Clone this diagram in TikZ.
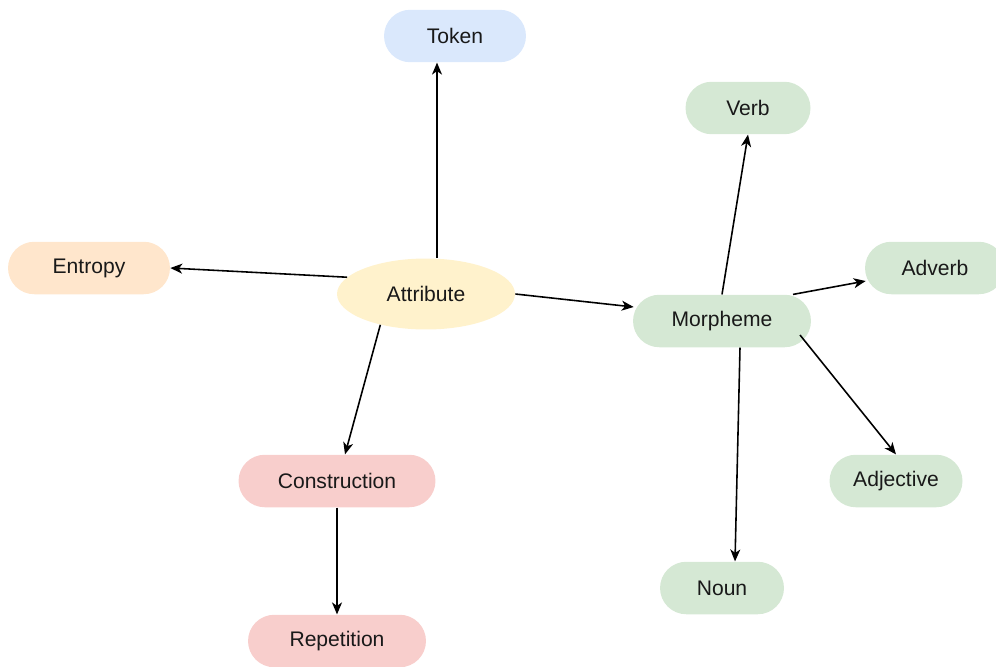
\documentclass[tikz,border=0pt]{standalone}
\usepackage{fontspec}
\setmainfont{Liberation Sans}
\usepackage{tikz}
\usetikzlibrary{calc,shapes.geometric,arrows.meta}

\definecolor{tokblue}{HTML}{DAE8FC}
\definecolor{entorange}{HTML}{FFE6CC}
\definecolor{attryellow}{HTML}{FFF2CC}
\definecolor{morphgreen}{HTML}{D5E8D4}
\definecolor{conred}{HTML}{F8CECC}

\tikzset{
    pill/.style={rectangle, rounded corners=0.525cm, minimum height=1.05cm,
        inner sep=0pt, font=\fontsize{12}{14}\selectfont, text=black!90},
    blob/.style={ellipse, minimum width=3.56cm, minimum height=1.42cm,
        inner sep=0pt, font=\fontsize{12}{14}\selectfont, text=black!90},
    link/.style={-{Stealth[length=2.4mm, width=2mm, inset=0.7mm]}, line width=0.9pt}
}

\begin{document}
\begin{tikzpicture}[x=0.02cm, y=-0.02cm]
        \useasboundingbox (0,0) rectangle (996,666);
        % nodes
        \node[blob, fill=attryellow] (attr) at (426,294) {Attribute};
        \node[pill, fill=tokblue, minimum width=2.84cm] (token) at (455,36) {Token};
        \node[pill, fill=entorange, minimum width=3.24cm] (entropy) at (89,268) {Entropy};
        \node[pill, fill=conred, minimum width=3.94cm] (constr) at (337,481) {Construction};
        \node[pill, fill=conred, minimum width=3.56cm] (repet) at (337,641) {Repetition};
        \node[pill, fill=morphgreen, minimum width=3.56cm] (morph) at (722,321) {Morpheme};
        \node[pill, fill=morphgreen, minimum width=2.5cm] (verb) at (748,108) {Verb};
        \node[pill, fill=morphgreen, minimum width=2.8cm] (adverb) at (935,268) {Adverb};
        \node[pill, fill=morphgreen, minimum width=2.66cm] (adj) at (896,481) {Adjective};
        \node[pill, fill=morphgreen, minimum width=2.48cm] (noun) at (722,588) {Noun};

        % arrows
        \draw[link] ($(attr.north)+(11,0)$) -- ($(token.south)+(-18,0)$);
        \draw[link] (attr.168) -- (entropy.east);
        \draw[link] (attr.214) -- ($(constr.north)+(8,0)$);
        \draw[link] (attr.east) -- ($(morph.west)+(1,-14)$);
        \draw[link] (constr.south) -- (repet.north);
        \draw[link] (morph.north) -- (verb.south);
        \draw[link] ($(morph.north)+(71,0)$) -- ($(adverb.west)+(1,13)$);
        \draw[link] ($(morph.center)+(78,14)$) -- (adj.north);
        \draw[link] ($(morph.south)+(18,0)$) -- ($(noun.north)+(13,0)$);
    \end{tikzpicture}
\end{document}
